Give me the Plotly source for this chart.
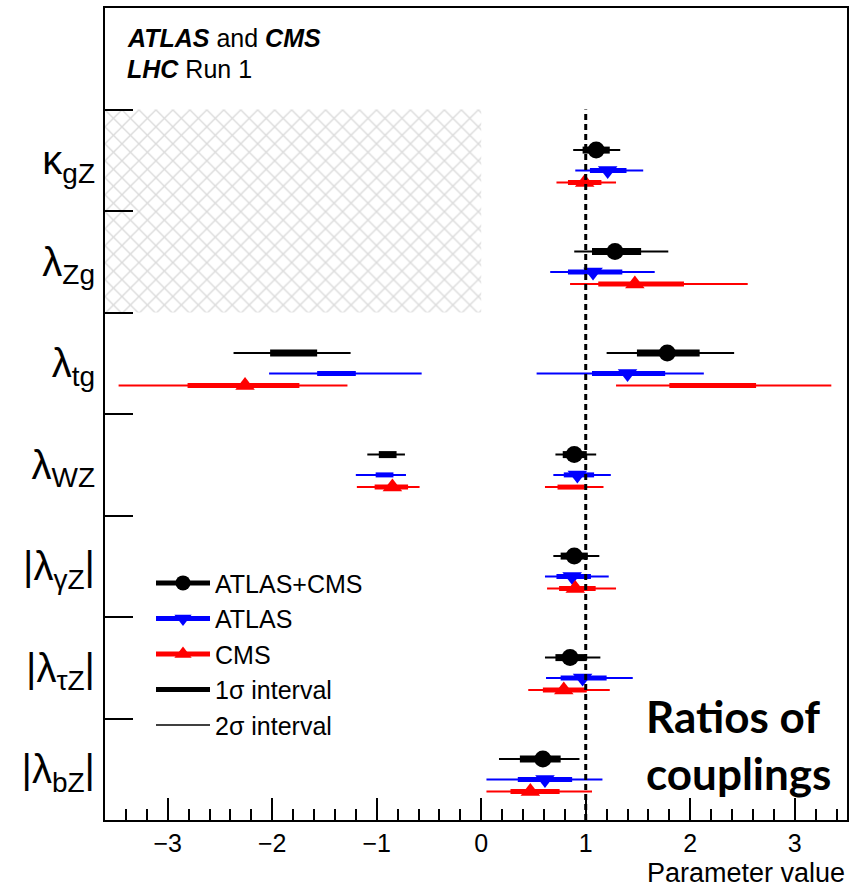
import plotly.graph_objects as go

# ---------------- data ----------------
categories = ["κ<sub>gZ</sub>", "λ<sub>Zg</sub>", "λ<sub>tg</sub>", "λ<sub>WZ</sub>",
              "|λ<sub>γZ</sub>|", "|λ<sub>τZ</sub>|", "|λ<sub>bZ</sub>|"]
series_names = ["ATLAS+CMS", "ATLAS", "CMS"]

comb_best = [1.10, 1.28, 1.78, 0.89, 0.89, 0.85, 0.59]
comb_1s = [[(0.97, 1.23)], [(1.06, 1.53)], [(-2.02, -1.57), (1.49, 2.09)],
           [(-0.98, -0.81), (0.78, 1.01)], [(0.76, 1.02)], [(0.71, 1.01)], [(0.37, 0.76)]]
comb_2s = [[(0.88, 1.33)], [(0.89, 1.79)], [(-2.37, -1.25), (1.20, 2.42)],
           [(-1.09, -0.73), (0.71, 1.10)], [(0.69, 1.13)], [(0.61, 1.14)], [(0.17, 0.94)]]

atlas_best = [1.21, 1.07, 1.40, 0.92, 0.87, 0.97, 0.61]
atlas_1s = [[(1.04, 1.39)], [(0.83, 1.35)], [(-1.57, -1.20), (1.06, 1.76)],
            [(-1.01, -0.84), (0.79, 1.08)], [(0.72, 1.05)], [(0.76, 1.20)], [(0.35, 0.87)]]
atlas_2s = [[(0.90, 1.55)], [(0.66, 1.66)], [(-2.03, -0.57), (0.53, 2.13)],
            [(-1.20, -0.72), (0.69, 1.24)], [(0.61, 1.22)], [(0.62, 1.45)], [(0.05, 1.16)]]

cms_best = [0.99, 1.47, -2.26, -0.85, 0.90, 0.79, 0.47]
cms_1s = [[(0.83, 1.15)], [(1.12, 1.94)], [(-2.81, -1.74), (1.80, 2.63)],
          [(-1.02, -0.70), (0.73, 0.99)], [(0.745, 1.095)], [(0.59, 1.01)], [(0.28, 0.75)]]
cms_2s = [[(0.72, 1.29)], [(0.85, 2.55)], [(-3.47, -1.28), (1.29, 3.35)],
          [(-1.19, -0.59), (0.61, 1.17)], [(0.63, 1.29)], [(0.45, 1.23)], [(0.05, 1.06)]]

x_ticks = [-3, -2, -1, 0, 1, 2, 3]
excluded_region = {"x": (-3.6, 0.0), "categories": (0, 1)}   # hatched: kgZ, lZg (negative side)
sm_value = 1.0

# ---------------- styling ----------------
FONT = "Liberation Sans"
XMIN, XMAX = -3.6, 3.5
n = len(categories)
YMAX = n + 1
centers = [n - i - 0.5 for i in range(n)]

styles = [
    dict(color="black", offset=0.10, symbol="circle", msize=17, thick=7, thin=2),
    dict(color="#0000ff", offset=-0.10, symbol="triangle-down", msize=17, thick=5, thin=2),
    dict(color="#ff0000", offset=-0.22, symbol="triangle-up", msize=17, thick=5, thin=2),
]
all_best = [comb_best, atlas_best, cms_best]
all_1s = [comb_1s, atlas_1s, cms_1s]
all_2s = [comb_2s, atlas_2s, cms_2s]

fig = go.Figure()

# hatched excluded region
c0, c1 = excluded_region["categories"]
fig.add_trace(go.Bar(
    orientation="h",
    y=[(centers[c0] + centers[c1]) / 2],
    x=[excluded_region["x"][1] - excluded_region["x"][0]],
    base=[excluded_region["x"][0]],
    width=[abs(centers[c0] - centers[c1]) + 1],
    marker=dict(color="white", line=dict(width=0),
                pattern=dict(shape="x", fgcolor="#b8b8b8", bgcolor="white",
                             size=12, solidity=0.22)),
    showlegend=False, hoverinfo="skip",
))


def seg_xy(intervals, off):
    xs, ys = [], []
    for i, ivs in enumerate(intervals):
        for lo, hi in ivs:
            xs += [lo, hi, None]
            ys += [centers[i] + off, centers[i] + off, None]
    return xs, ys


for k, st in enumerate(styles):
    xs, ys = seg_xy(all_2s[k], st["offset"])
    fig.add_trace(go.Scatter(x=xs, y=ys, mode="lines",
                             line=dict(color=st["color"], width=st["thin"]),
                             showlegend=False, hoverinfo="skip"))
    xs, ys = seg_xy(all_1s[k], st["offset"])
    fig.add_trace(go.Scatter(x=xs, y=ys, mode="lines",
                             line=dict(color=st["color"], width=st["thick"]),
                             showlegend=False, hoverinfo="skip"))
for k, st in enumerate(styles):
    fig.add_trace(go.Scatter(x=all_best[k], y=[c + st["offset"] for c in centers],
                             mode="markers",
                             marker=dict(color=st["color"], symbol=st["symbol"], size=st["msize"]),
                             showlegend=False))

# legend entries
for k, st in enumerate(styles):
    fig.add_trace(go.Scatter(x=[None], y=[None], mode="lines+markers", name=series_names[k],
                             line=dict(color=st["color"], width=5),
                             marker=dict(color=st["color"], symbol=st["symbol"], size=15),
                             legendgroup=f"g{k}"))
fig.add_trace(go.Scatter(x=[None], y=[None], mode="lines", name="1σ interval",
                         line=dict(color="black", width=5), legendgroup="g3"))
fig.add_trace(go.Scatter(x=[None], y=[None], mode="lines", name="2σ interval",
                         line=dict(color="black", width=1.5), legendgroup="g4"))

# SM line
fig.add_shape(type="line", x0=sm_value, x1=sm_value, y0=0, y1=n, xref="x", yref="y",
              line=dict(color="black", width=3, dash="6px,4px"))

fig.add_annotation(x=0.027, y=0.963, xref="paper", yref="paper", xanchor="left", yanchor="middle",
                   text="<b><i>ATLAS</i></b> and <b><i>CMS</i></b>", showarrow=False,
                   font=dict(family=FONT, size=25, color="black"))
fig.add_annotation(x=0.027, y=0.925, xref="paper", yref="paper", xanchor="left", yanchor="middle",
                   text="<b><i>LHC</i></b> Run 1", showarrow=False,
                   font=dict(family=FONT, size=25, color="black"))
fig.add_annotation(x=0.726, y=0.093, xref="paper", yref="paper", xanchor="left", yanchor="middle",
                   align="left", text="<b>Ratios of<br>couplings</b>", showarrow=False,
                   font=dict(family="Lato, Open Sans, sans-serif", size=44, color="black"))
fig.add_annotation(x=1.0, y=-0.0655, xref="paper", yref="paper", xanchor="right", yanchor="middle",
                   text="Parameter value", showarrow=False,
                   font=dict(family=FONT, size=27, color="black"))

fig.update_layout(
    width=860, height=888,
    margin=dict(l=105, r=13, t=6, b=68),
    paper_bgcolor="white", plot_bgcolor="white",
    font=dict(family=FONT, color="black"),
    showlegend=True,
    legend=dict(x=0.062, y=0.32, xanchor="left", yanchor="top",
                bgcolor="rgba(0,0,0,0)", font=dict(family=FONT, size=25),
                itemwidth=54, tracegroupgap=0, traceorder="normal"),
    barmode="overlay",
)
fig.update_xaxes(range=[XMIN, XMAX], tickvals=x_ticks, ticks="inside", ticklen=22, tickwidth=1.5,
                 tickcolor="black", showline=True, linewidth=2, linecolor="black", mirror=True,
                 showgrid=False, zeroline=False, tickfont=dict(family=FONT, size=25),
                 minor=dict(dtick=0.2, tick0=0, ticks="inside", ticklen=11, tickwidth=1.5,
                            tickcolor="black", showgrid=False))
fig.update_yaxes(range=[0, YMAX], tickvals=centers, ticktext=categories, ticks="",
                 showline=True, linewidth=2, linecolor="black", mirror=True,
                 showgrid=False, zeroline=False, ticklabelstandoff=0,
                 tickfont=dict(family=FONT, size=40),
                 minor=dict(tickvals=list(range(1, n + 1)), ticks="inside", ticklen=28,
                            tickwidth=1.5, tickcolor="black", showgrid=False))

fig.write_html("out.html")
